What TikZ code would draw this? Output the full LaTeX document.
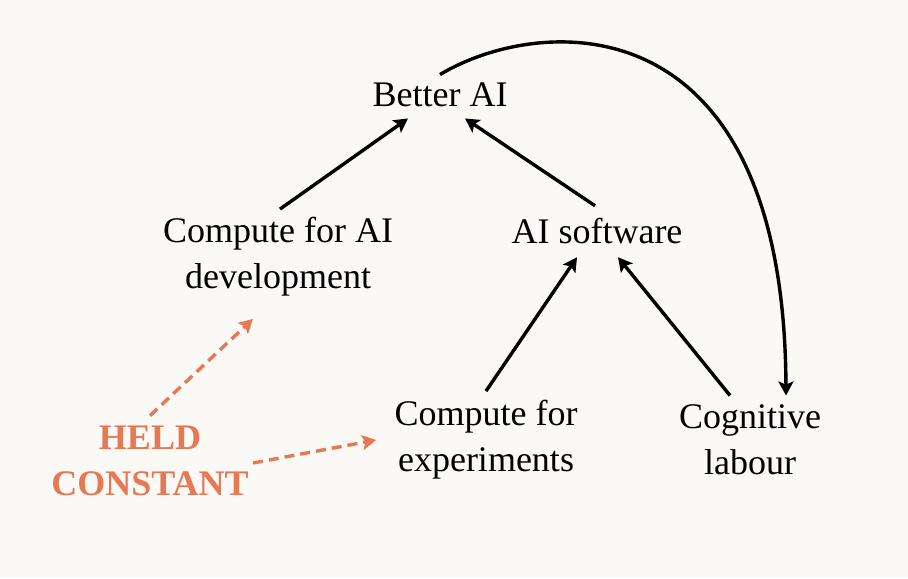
\documentclass[tikz,border=0pt]{standalone}
\usepackage{fontspec}
\setmainfont{Liberation Serif}
\usetikzlibrary{arrows.meta,positioning}
\definecolor{paper}{RGB}{250,249,245}
\definecolor{heldorange}{RGB}{231,120,84}

\begin{document}
\begin{tikzpicture}[
  font=\fontsize{18}{23}\selectfont,
  lbl/.style={align=center, inner sep=2pt},
  arrow/.style={-{Stealth[length=7pt, width=7.5pt, inset=1.5pt]}, line width=1.7pt, draw=black},
  fixed/.style={-{Stealth[length=7pt, width=7.5pt, inset=1.5pt]}, line width=1.7pt, draw=heldorange, dash pattern=on 5pt off 3pt},
  note/.style={align=center, inner sep=2pt, text=heldorange, font=\fontsize{18}{23}\selectfont\bfseries},
  on grid
]
\fill[paper] (0,0) rectangle (454pt,-289pt);
\useasboundingbox (0,0) rectangle (454pt,-289pt);

\node[lbl] (better) at (220pt,-47.5pt) {Better AI};
\node[lbl, below left=81pt and 81pt of better] (compdev) {Compute for AI\\development};
\node[lbl, below right=68pt and 78.5pt of better] (soft) {AI software};
\node[lbl, below left=104.5pt and 55.5pt of soft] (compexp) {Compute for\\experiments};
\node[lbl, right=132pt of compexp] (cog) {Cognitive\\labour};
\node[note, below left=10.5pt and 168pt of compexp] (held) {HELD\\CONSTANT};

\draw[arrow] ([xshift=1pt,yshift=2pt]compdev.north) -- ([xshift=-16pt,yshift=-3.5pt]better.south);
\draw[arrow] ([xshift=-1pt,yshift=4pt]soft.north) -- ([xshift=12.5pt,yshift=-3.5pt]better.south);
\draw[arrow] ([yshift=2.5pt]compexp.north) -- ([xshift=-10pt,yshift=-4.5pt]soft.south);
\draw[arrow] ([xshift=-10pt,yshift=2.5pt]cog.north) -- ([xshift=10.5pt,yshift=-4.5pt]soft.south);
\draw[arrow] ([yshift=2pt]better.north) .. controls +(50pt,30pt) and +(-1pt,199pt) .. ([xshift=18pt,yshift=2.5pt]cog.north);

\draw[fixed] ([yshift=3pt]held.north) -- ([xshift=-12.5pt,yshift=-9pt]compdev.south);
\draw[fixed] ([yshift=-1pt]held.east) -- ([xshift=-7pt]compexp.west);
\end{tikzpicture}
\end{document}
